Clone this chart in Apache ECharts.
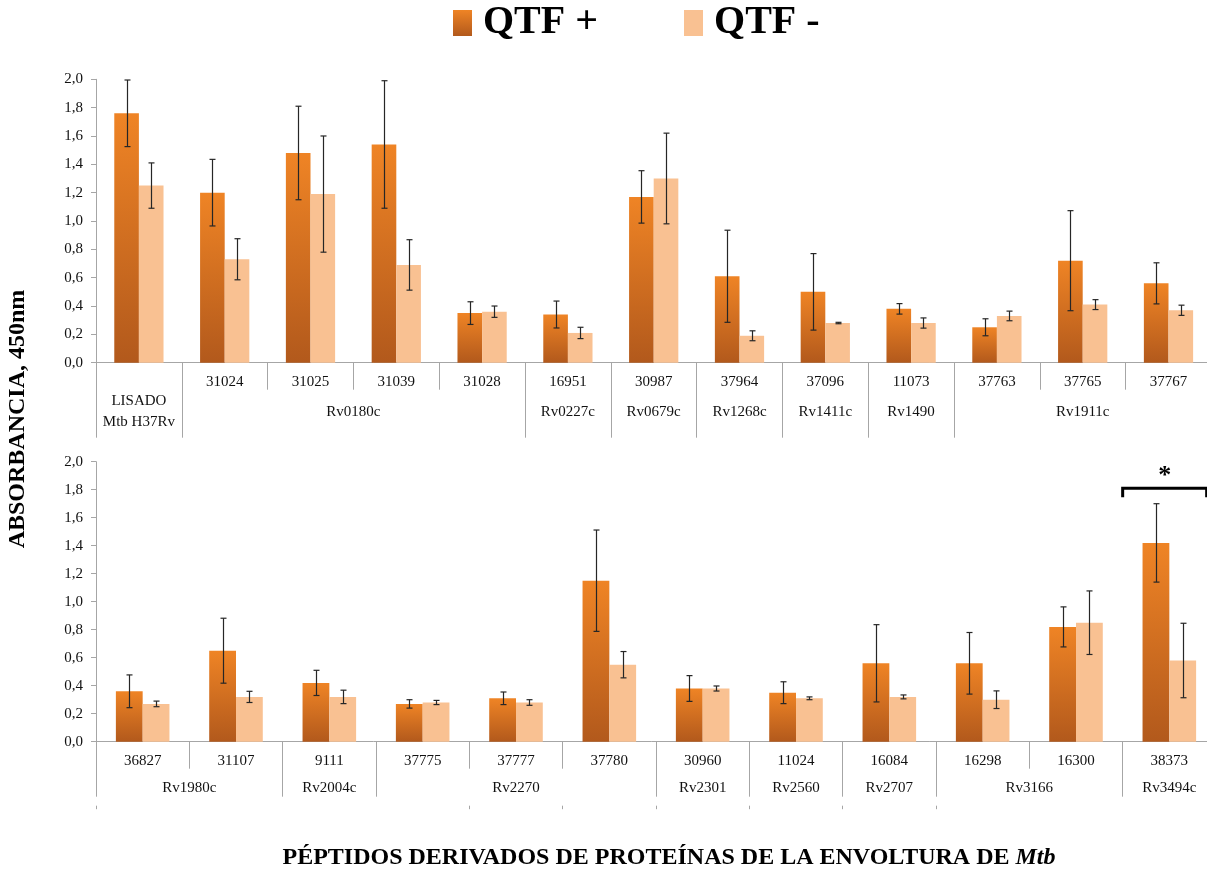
<!DOCTYPE html>
<html>
<head>
<meta charset="utf-8">
<script src="https://cdn.jsdelivr.net/npm/echarts@6/dist/echarts.min.js"></script>
<style>
  html, body { margin: 0; padding: 0; background: #fff; }
  #chart { width: 1207px; height: 873px; }
</style>
</head>
<body>
<div id="chart"></div>
<script>
// ---- data ---------------------------------------------------------------
const seriesNames = ['QTF +', 'QTF -'];

// upper panel
const topPeptides   = ['', '31024', '31025', '31039', '31028', '16951', '30987', '37964', '37096', '11073', '37763', '37765', '37767'];
const topProteins   = ['LISADO\nMtb H37Rv', 'Rv0180c', 'Rv0227c', 'Rv0679c', 'Rv1268c', 'Rv1411c', 'Rv1490', 'Rv1911c'];
const topProteinLen = [1, 4, 1, 1, 1, 1, 1, 3];
const topPos    = [1.76, 1.20, 1.48, 1.54, 0.35, 0.34, 1.17, 0.61, 0.50, 0.38, 0.25, 0.72, 0.56];
const topPosErr = [0.235, 0.235, 0.33, 0.45, 0.08, 0.095, 0.185, 0.325, 0.27, 0.037, 0.06, 0.353, 0.145];
const topNeg    = [1.25, 0.73, 1.19, 0.69, 0.36, 0.21, 1.30, 0.19, 0.28, 0.28, 0.33, 0.41, 0.37];
const topNegErr = [0.16, 0.145, 0.41, 0.178, 0.04, 0.04, 0.32, 0.035, 0.005, 0.036, 0.034, 0.035, 0.036];

// lower panel
const botPeptides   = ['36827', '31107', '9111', '37775', '37777', '37780', '30960', '11024', '16084', '16298', '16300', '38373'];
const botProteins   = ['Rv1980c', 'Rv2004c', 'Rv2270', 'Rv2301', 'Rv2560', 'Rv2707', 'Rv3166', 'Rv3494c'];
const botProteinLen = [2, 1, 3, 1, 1, 1, 2, 1];
const botOuterLen   = [4, 1, 1, 1, 1, 1, 3];
const botPos    = [0.36, 0.65, 0.42, 0.27, 0.31, 1.15, 0.38, 0.35, 0.56, 0.56, 0.82, 1.42];
const botPosErr = [0.117, 0.232, 0.09, 0.03, 0.045, 0.362, 0.092, 0.078, 0.276, 0.22, 0.143, 0.28];
const botNeg    = [0.27, 0.32, 0.32, 0.28, 0.28, 0.55, 0.38, 0.31, 0.32, 0.30, 0.85, 0.58];
const botNegErr = [0.02, 0.04, 0.048, 0.015, 0.02, 0.094, 0.018, 0.01, 0.014, 0.063, 0.227, 0.266];

// significant difference marked in the lower panel (category index)
const significant = [11];

const yTicks = { min: 0, max: 2, interval: 0.2 };

// ---- styling ------------------------------------------------------------
const FONT = "'Liberation Serif', 'Times New Roman', serif";
const AXIS = '#A6A6A6';
const TXT = '#111';
const BAR_RATIO = 0.287;
const posColor = {
  type: 'linear', x: 0, y: 0, x2: 0, y2: 1,
  colorStops: [{ offset: 0, color: '#EF8425' }, { offset: 1, color: '#B2591C' }]
};
const negColor = '#F9C192';

// Half-category axis: 2n+1 points, boundaries at even indices, group labels at group centres.
function groupAxis(names, sizes) {
  const n = sizes.reduce((a, b) => a + b, 0);
  const labels = new Array(2 * n + 1).fill('');
  const ticks = new Set([0]);
  let start = 0;
  sizes.forEach((s, i) => {
    if (names) labels[2 * start + s] = names[i];
    start += s;
    ticks.add(2 * start);
  });
  return { labels, ticks };
}

const topGroups = groupAxis(topProteins, topProteinLen);
const botGroups = groupAxis(botProteins, botProteinLen);
const botOuter  = groupAxis(null, botOuterLen);

function errorBarItem(side) {
  return function (params, api) {
    const i = api.value(0), m = api.value(1), e = api.value(2);
    const band = api.size([1, 0])[0];
    const x = Math.round(api.coord([i, m])[0] + side * band * BAR_RATIO / 2) + 0.5;
    const yTop = api.coord([i, m + e])[1];
    const yBot = api.coord([i, m - e])[1];
    const c = 3;
    const st = { stroke: '#262626', lineWidth: 1.2 };
    return {
      type: 'group',
      children: [
        { type: 'line', shape: { x1: x, y1: yTop, x2: x, y2: yBot }, style: st },
        { type: 'line', shape: { x1: x - c, y1: yTop, x2: x + c, y2: yTop }, style: st },
        { type: 'line', shape: { x1: x - c, y1: yBot, x2: x + c, y2: yBot }, style: st }
      ]
    };
  };
}

function bracketItem(params, api) {
  const i = api.value(0), lv = api.value(1);
  const c = api.coord([i, lv]);
  const band = api.size([1, 0])[0];
  const x0 = c[0] - band / 2, x1 = c[0] + band * 0.4, y = c[1], h = 9;
  return {
    type: 'group',
    children: [
      { type: 'polyline', shape: { points: [[x0, y + h], [x0, y], [x1, y], [x1, y + h]] },
        style: { stroke: '#000', lineWidth: 3, fill: null } },
      { type: 'text', style: { text: '*', x: (x0 + x1) / 2, y: y - 12, align: 'center', verticalAlign: 'middle',
        font: 'bold 26px ' + FONT, fill: '#000' } }
    ]
  };
}

function yAxis(gridIndex) {
  return {
    type: 'value', gridIndex, min: yTicks.min, max: yTicks.max, interval: yTicks.interval,
    splitLine: { show: false },
    axisLine: { show: true, lineStyle: { color: AXIS, width: 1 } },
    axisTick: { show: true, length: 5, lineStyle: { color: AXIS } },
    axisLabel: { margin: 13, fontFamily: FONT, fontSize: 15, color: TXT,
      formatter: v => v.toFixed(1).replace('.', ',') }
  };
}

function peptideAxis(gridIndex, data, tickLen, margin) {
  return {
    type: 'category', gridIndex, data, position: 'bottom',
    axisLine: { show: true, onZero: false, lineStyle: { color: AXIS, width: 1 } },
    axisTick: { show: true, interval: 0, length: tickLen, lineStyle: { color: AXIS } },
    axisLabel: { interval: 0, margin, verticalAlign: 'middle', fontFamily: FONT, fontSize: 15, color: TXT }
  };
}

function groupLevelAxis(gridIndex, groups, tickLen, margin, offset) {
  return {
    type: 'category', gridIndex, data: groups.labels, boundaryGap: false, position: 'bottom', offset: offset || 0,
    axisLine: { show: false, onZero: false },
    axisTick: { show: true, length: tickLen, interval: i => groups.ticks.has(i), lineStyle: { color: AXIS } },
    axisLabel: { show: margin != null, interval: (i, v) => v !== '', margin: margin || 0, verticalAlign: 'middle',
      lineHeight: 21, fontFamily: FONT, fontSize: 15, color: TXT }
  };
}

function panelSeries(xi, yi, pos, posErr, neg, negErr) {
  return [
    { name: seriesNames[0], type: 'bar', xAxisIndex: xi, yAxisIndex: yi, data: pos,
      barWidth: (BAR_RATIO * 100) + '%', barGap: '0%', itemStyle: { color: posColor } },
    { name: seriesNames[1], type: 'bar', xAxisIndex: xi, yAxisIndex: yi, data: neg,
      barWidth: (BAR_RATIO * 100) + '%', barGap: '0%', itemStyle: { color: negColor } },
    { type: 'custom', xAxisIndex: xi, yAxisIndex: yi, z: 5, silent: true,
      data: pos.map((v, i) => [i, v, posErr[i]]), renderItem: errorBarItem(-1) },
    { type: 'custom', xAxisIndex: xi, yAxisIndex: yi, z: 5, silent: true,
      data: neg.map((v, i) => [i, v, negErr[i]]), renderItem: errorBarItem(1) }
  ];
}

const bracketData = significant.map(i => [i, Math.max(botPos[i] + botPosErr[i], botNeg[i] + botNegErr[i]) + 0.11]);

const chart = echarts.init(document.getElementById('chart'), null, { renderer: 'canvas' });
chart.setOption({
  animation: false,
  backgroundColor: '#fff',
  legend: {
    data: seriesNames, left: 453, top: 3, padding: 0,
    icon: 'rect', itemWidth: 19, itemHeight: 26, itemGap: 86,
    textStyle: { fontFamily: FONT, fontSize: 40, fontWeight: 'bold', color: '#000', padding: [5, 0, 0, 6] }
  },
  grid: [
    { left: 96, top: 79.3, width: 1115.4, height: 283.4, containLabel: false, outerBoundsMode: 'none' },
    { left: 96, top: 461.7, width: 1120, height: 280, containLabel: false, outerBoundsMode: 'none' }
  ],
  xAxis: [
    peptideAxis(0, topPeptides, 27, 19),
    groupLevelAxis(0, topGroups, 75, 49),
    peptideAxis(1, botPeptides, 27, 19),
    groupLevelAxis(1, botGroups, 55, 46),
    groupLevelAxis(1, botOuter, 3.5, null, 64)
  ],
  yAxis: [yAxis(0), yAxis(1)],
  series: [
    ...panelSeries(0, 0, topPos, topPosErr, topNeg, topNegErr),
    ...panelSeries(2, 1, botPos, botPosErr, botNeg, botNegErr),
    { type: 'custom', xAxisIndex: 2, yAxisIndex: 1, z: 6, silent: true, data: bracketData, renderItem: bracketItem }
  ],
  graphic: [
    { type: 'text', x: 18, y: 419, rotation: Math.PI / 2, silent: true,
      style: { text: 'ABSORBANCIA, 450nm', font: 'bold 24px ' + FONT, fill: '#000', align: 'center', verticalAlign: 'middle' } },
    { type: 'text', x: 669, y: 858, silent: true,
      style: { text: '{b|PÉPTIDOS DERIVADOS DE PROTEÍNAS DE LA ENVOLTURA DE }{i|Mtb}', align: 'center', verticalAlign: 'middle',
        rich: {
          b: { fontFamily: FONT, fontSize: 24, fontWeight: 'bold', fill: '#000', color: '#000' },
          i: { fontFamily: FONT, fontSize: 24, fontWeight: 'bold', fontStyle: 'italic', fill: '#000', color: '#000' }
        } } }
  ]
});
</script>
</body>
</html>
